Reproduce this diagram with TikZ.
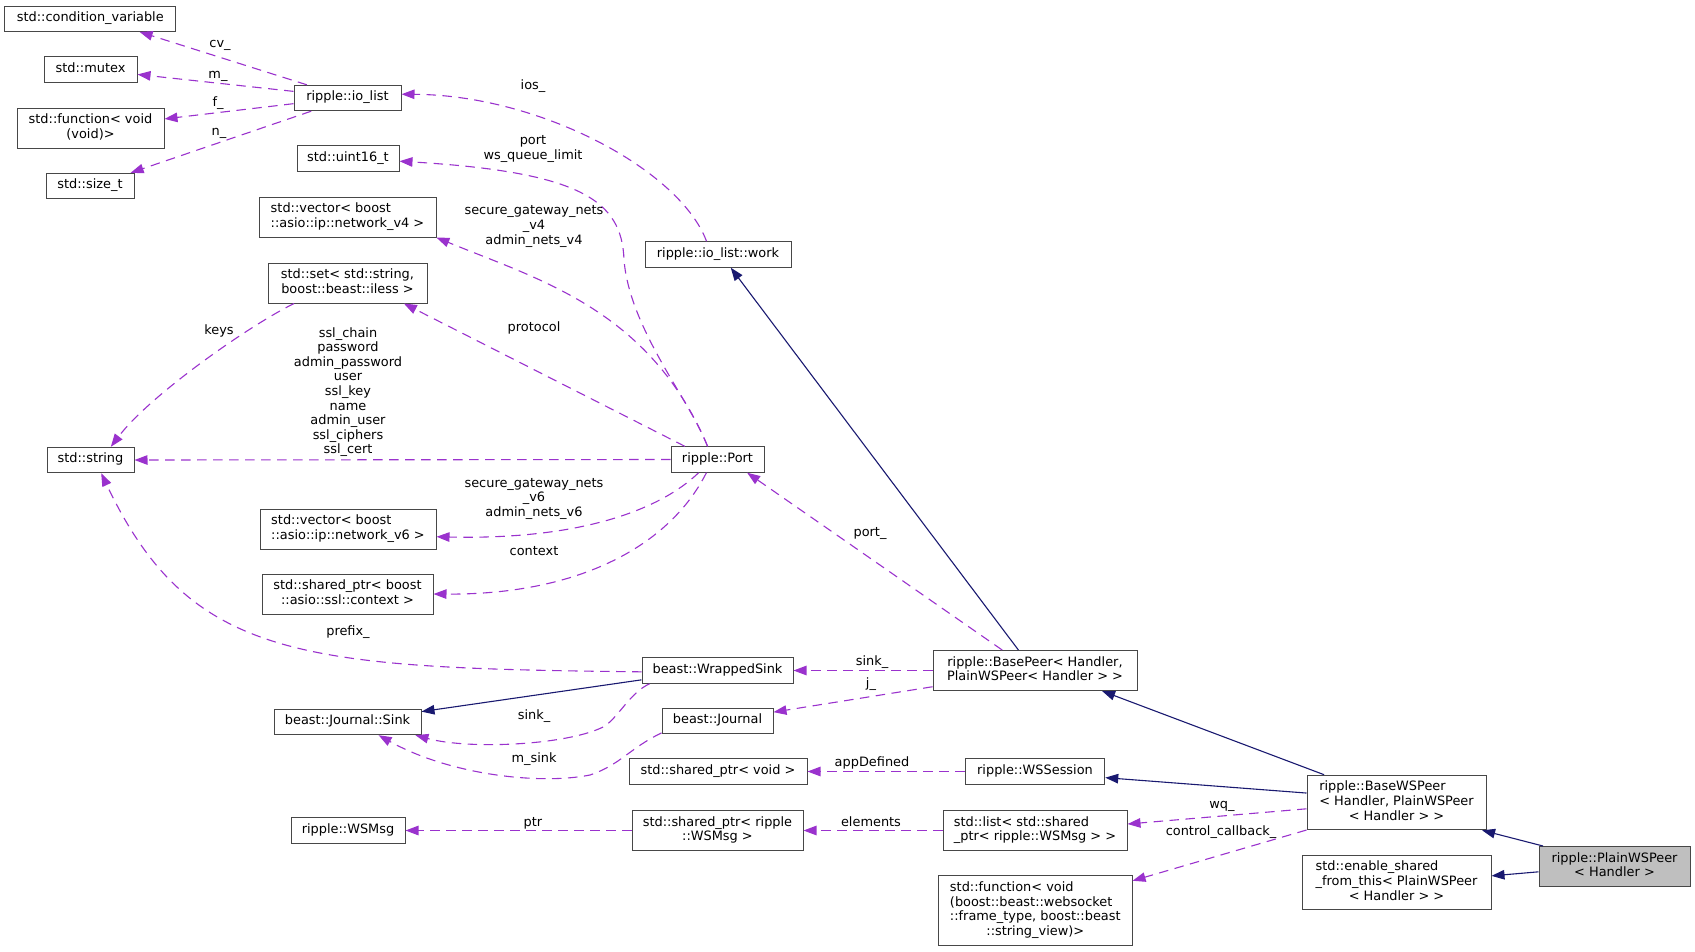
\documentclass[tikz,border=0pt]{standalone}
\usepackage{fontspec}
\setmainfont{DejaVu Sans}
\usetikzlibrary{arrows.meta, positioning}
\definecolor{memberpurple}{HTML}{9A32CD}
\definecolor{basenavy}{HTML}{191970}
\definecolor{currentgray}{HTML}{BFBFBF}
\newcommand{\dxfont}{\fontsize{12.9}{14.6}\selectfont}
\newcommand{\cls}[1]{\begin{tabular}{@{}l@{}}#1\end{tabular}}
\newcommand{\ctr}[1]{\multicolumn{1}{@{}c@{}}{#1}}
\newcommand{\lbl}[1]{\begin{tabular}{@{}c@{}}#1\end{tabular}}
\tikzset{
  classbox/.style={draw=black!72, line width=1pt, fill=white, inner xsep=0pt, inner ysep=5.4pt, font=\dxfont},
  member/.style={draw=memberpurple, line width=1.1pt, dash pattern=on 9.5pt off 6.5pt, -{Triangle[length=13pt,width=9.5pt]}},
  inherit/.style={draw=basenavy, line width=1.1pt, -{Triangle[length=13pt,width=9.5pt]}},
  edgelabel/.style={font=\dxfont, inner sep=0pt}
}
\begin{document}
\begin{tikzpicture}[x=1pt, y=-1pt]
            \useasboundingbox (0,0) rectangle (1695,951);
            % classes
            \node[classbox, minimum width=171pt] (condvar) at (90.3,18.7) {\cls{std::condition\_variable}};
            \node[classbox, minimum width=93pt] (mutex) at (90.5,69.5) {\cls{std::mutex}};
            \node[classbox, minimum width=147pt] (funcvoid) at (90.5,128) {\cls{std::function< void\\\ctr{(void)>}}};
            \node[classbox, minimum width=88pt] (sizet) at (90,186) {\cls{std::size\_t}};
            \node[classbox, minimum width=107pt] (iolist) at (347.5,98) {\cls{ripple::io\_list}};
            \node[classbox, minimum width=102pt] (uint16) at (348,158.5) {\cls{std::uint16\_t}};
            \node[classbox, minimum width=177pt] (vecv4) at (347.5,217) {\cls{std::vector< boost\\\ctr{::asio::ip::network\_v4 >}}};
            \node[classbox, minimum width=159pt] (setstr) at (347.5,283) {\cls{\ctr{std::set< std::string,}\\\ctr{boost::beast::iless >}}};
            \node[classbox, minimum width=87pt] (string) at (90.5,460) {\cls{std::string}};
            \node[classbox, minimum width=176pt] (vecv6) at (348,529) {\cls{std::vector< boost\\\ctr{::asio::ip::network\_v6 >}}};
            \node[classbox, minimum width=171pt] (sslctx) at (347.5,594) {\cls{std::shared\_ptr< boost\\\ctr{::asio::ssl::context >}}};
            \node[classbox, minimum width=147pt] (sink) at (347.5,722) {\cls{beast::Journal::Sink}};
            \node[classbox, minimum width=93pt] (port) at (717.5,459.5) {\cls{ripple::Port}};
            \node[classbox, minimum width=146pt] (work) at (718,254.5) {\cls{ripple::io\_list::work}};
            \node[classbox, minimum width=151pt] (wrapped) at (717.5,670.5) {\cls{beast::WrappedSink}};
            \node[classbox, minimum width=111pt] (journal) at (717.5,721) {\cls{beast::Journal}};
            \node[classbox, minimum width=178pt] (spvoid) at (718,771.5) {\cls{std::shared\_ptr< void >}};
            \node[classbox, minimum width=171pt] (spmsg) at (717.5,830.5) {\cls{std::shared\_ptr< ripple\\\ctr{::WSMsg >}}};
            \node[classbox, minimum width=114pt] (wsmsg) at (348,830.5) {\cls{ripple::WSMsg}};
            \node[classbox, minimum width=204pt] (basepeer) at (1035,670.5) {\cls{\ctr{ripple::BasePeer< Handler,}\\\ctr{PlainWSPeer< Handler > >}}};
            \node[classbox, minimum width=139.5pt] (session) at (1035,771.5) {\cls{ripple::WSSession}};
            \node[classbox, minimum width=184pt] (msglist) at (1035,830.5) {\cls{std::list< std::shared\\\ctr{\_ptr< ripple::WSMsg > >}}};
            \node[classbox, minimum width=193.5pt] (ctrlfn) at (1035.3,910.5) {\cls{std::function< void\\(boost::beast::websocket\\::frame\_type, boost::beast\\\ctr{::string\_view)>}}};
            \node[classbox, minimum width=179pt] (basews) at (1396.5,802.5) {\cls{ripple::BaseWSPeer\\< Handler, PlainWSPeer\\\ctr{< Handler > >}}};
            \node[classbox, minimum width=189pt] (enshared) at (1396.5,882.5) {\cls{std::enable\_shared\\\_from\_this< PlainWSPeer\\\ctr{< Handler > >}}};
            \node[classbox, fill=currentgray, minimum width=151pt] (plain) at (1614.5,866.5) {\cls{\ctr{ripple::PlainWSPeer}\\\ctr{< Handler >}}};
            % members
            \draw[member] (iolist.162.2) -- (condvar.-15);
            \draw[member] (iolist.173.6) -- (mutex.-6.7);
            \draw[member] (iolist.186.4) -- (funcvoid.7.7);
            \draw[member] (iolist.200.6) -- (sizet.18.9);
            \draw[member] (work.131.3) .. controls (680,170) and (540,95) .. (iolist.4.3);
            \draw[member] (port.127.2) .. controls (690,400) and (630,330) .. (624,260) .. controls (622,200) and (580,172) .. (uint16.-3.9);
            \draw[member] (port.127.2) .. controls (650,310) and (540,280) .. (vecv4.-13.2);
            \draw[member] (port.158.4) -- (setstr.-20.1);
            \draw[member] (port.west) -- (string.east);
            \draw[member] (setstr.201.6) .. controls (250,325) and (150,395) .. (string.33.7);
            \draw[member] (port.215.5) .. controls (660,510) and (580,540) .. (vecv6.-5.2);
            \draw[member] (port.230) .. controls (670,545) and (580,595) .. (sslctx.0);
            \draw[member] (wrapped.181.9) .. controls (300,668) and (190,660) .. (string.-51);
            \draw[member] (wrapped.191.3) .. controls (630,693) and (620,715) .. (605,726) .. controls (570,745) and (470,750) .. (sink.-11.7);
            \draw[member] (journal.192.2) .. controls (630,748) and (620,765) .. (590,775) .. controls (540,785) and (450,775) .. (sink.-23.1);
            \draw[member] (basepeer.west) -- (wrapped.east);
            \draw[member] (basepeer.189.2) -- (journal.9.2);
            \draw[member] (basepeer.148.6) -- (port.-24.4);
            \draw[member] (basews.184.8) -- (msglist.4.7);
            \draw[member] (basews.197.1) -- (ctrlfn.17);
            \draw[member] (session.west) -- (spvoid.east);
            \draw[member] (msglist.west) -- (spmsg.east);
            \draw[member] (spmsg.west) -- (wsmsg.east);
            % bases
            \draw[inherit] (wrapped.187.9) -- (sink.8.5);
            \draw[inherit] (basepeer.129.4) -- (work.-46.2);
            \draw[inherit] (basews.159.7) -- (basepeer.-17.2);
            \draw[inherit] (basews.174.6) -- (session.-5.3);
            \draw[inherit] (plain.164.4) -- (basews.-18);
            \draw[inherit] (plain.184.2) -- (enshared.4.5);
            % labels
            \node[edgelabel] (lcv) at (220,45) {cv\_};
            \node[edgelabel] (lm) at (218,76) {m\_};
            \node[edgelabel] (lf) at (218,103) {f\_};
            \node[edgelabel] (ln) at (219,133) {n\_};
            \node[edgelabel] (lios) at (533,86) {ios\_};
            \node[edgelabel] (lportq) at (533,149) {\lbl{port\\ws\_queue\_limit}};
            \node[edgelabel] (lnetsfour) at (534,226.5) {\lbl{secure\_gateway\_nets\\\_v4\\admin\_nets\_v4}};
            \node[edgelabel] (lproto) at (534,328) {protocol};
            \node[edgelabel] (lkeys) at (219,331) {keys};
            \node[edgelabel] (lstrings) at (348,392.5) {\lbl{ssl\_chain\\password\\admin\_password\\user\\ssl\_key\\name\\admin\_user\\ssl\_ciphers\\ssl\_cert}};
            \node[edgelabel] (lnetssix) at (534,499) {\lbl{secure\_gateway\_nets\\\_v6\\admin\_nets\_v6}};
            \node[edgelabel] (lctx) at (534,551) {context};
            \node[edgelabel] (lprefix) at (348,632) {prefix\_};
            \node[edgelabel] (lport) at (870,533) {port\_};
            \node[edgelabel] (lsinkb) at (872,662) {sink\_};
            \node[edgelabel] (lj) at (871,684) {j\_};
            \node[edgelabel] (lsinka) at (534,716) {sink\_};
            \node[edgelabel] (lmsink) at (534,759) {m\_sink};
            \node[edgelabel] (lapp) at (872,763) {appDefined};
            \node[edgelabel] (lelem) at (871,822) {elements};
            \node[edgelabel] (lptr) at (533,823) {ptr};
            \node[edgelabel] (lwq) at (1222,806.5) {wq\_};
            \node[edgelabel] (lcb) at (1221,832) {control\_callback\_};
        \end{tikzpicture}
\end{document}
